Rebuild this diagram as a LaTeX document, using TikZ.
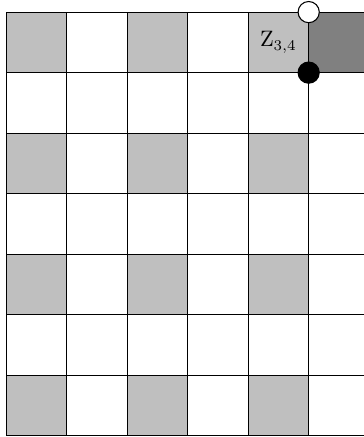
\documentclass[tikz,border=0pt]{standalone}
\usepackage{tikz}
\definecolor{claro}{RGB}{191,191,191}
\definecolor{oscuro}{RGB}{128,128,128}

\begin{document}
\begin{tikzpicture}[
  casilla/.style={fill=claro},
  ocupada/.style={fill=oscuro},
  rejilla/.style={draw=black, line width=0.5pt},
  etiqueta/.style={font=\fontsize{10.5}{12}\selectfont, inner sep=0pt},
  punto/.style={circle, draw=black, line width=0.5pt, inner sep=0pt,
                minimum size=3.5mm},
]
% --- Marco y recorte ------------------------------------------------------
\useasboundingbox (-0.1,-0.02) rectangle (5.91,7.2);
\clip (-0.1,-0.02) rectangle (5.91,7.2);
% --- Casillas sombreadas --------------------------------------------------
\foreach \i in {0,2,4} {
  \foreach \j in {0,2,4,6} {
    \fill[casilla] (\i,\j) rectangle ++(1,1);
  }
}
\fill[ocupada] (5,6) rectangle (6,7);
% --- Rejilla ----------------------------------------------------------------
\draw[rejilla] (0,0) grid (6,7);
% --- Etiqueta y puntos ------------------------------------------------------
\node[etiqueta] (z34) at (4.5,6.5) {Z$_{3,4}$};
\node[punto, fill=white] (libre) at (5,7) {};
\node[punto, fill=black] (lleno) at (5,6) {};
\end{tikzpicture}
\end{document}
